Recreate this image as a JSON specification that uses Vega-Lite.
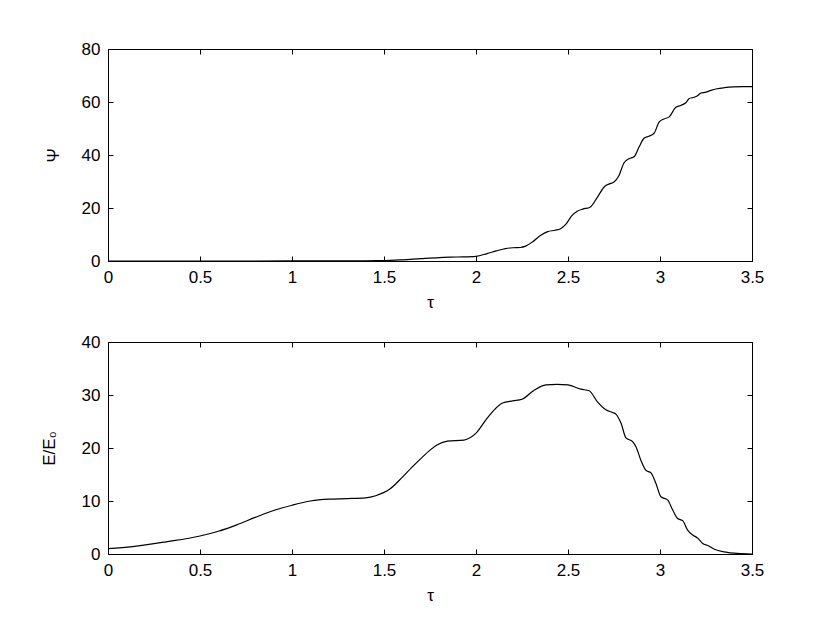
{
  "$schema": "https://vega.github.io/schema/vega-lite/v6.json",
  "padding": {"left": 39, "top": 39, "right": 5, "bottom": 5},
  "spacing": 21,
  "config": {
    "font": "Liberation Sans",
    "view": {"stroke": "black", "strokeWidth": 1},
    "axis": {
      "grid": false,
      "domain": false,
      "tickColor": "black",
      "tickWidth": 1,
      "tickSize": -5,
      "labelPadding": 13,
      "labelFontSize": 17,
      "titleFontSize": 17,
      "labelColor": "black",
      "titleColor": "black",
      "titleFontWeight": "normal",
      "labelFont": "Liberation Sans",
      "titleFont": "Liberation Sans",
      "labelFlush": false,
      "format": "~r"
    },
    "line": {"color": "black", "strokeWidth": 1.2}
  },
  "datasets": {
    "psi": [
      {"t": 0, "v": 0}, {"t": 0.5, "v": 0}, {"t": 1.0, "v": 0.02}, {"t": 1.2, "v": 0.05},
      {"t": 1.4, "v": 0.1}, {"t": 1.5, "v": 0.15}, {"t": 1.6, "v": 0.45}, {"t": 1.7, "v": 0.9},
      {"t": 1.8, "v": 1.3}, {"t": 1.9, "v": 1.5}, {"t": 2.0, "v": 1.75}, {"t": 2.06, "v": 2.8},
      {"t": 2.11, "v": 3.8}, {"t": 2.16, "v": 4.7}, {"t": 2.2, "v": 5.0}, {"t": 2.24, "v": 5.1},
      {"t": 2.27, "v": 5.6}, {"t": 2.31, "v": 7.4}, {"t": 2.35, "v": 9.6}, {"t": 2.39, "v": 11.1},
      {"t": 2.43, "v": 11.6}, {"t": 2.46, "v": 12.2}, {"t": 2.49, "v": 14}, {"t": 2.52, "v": 17},
      {"t": 2.55, "v": 18.8}, {"t": 2.58, "v": 19.6}, {"t": 2.62, "v": 20.3}, {"t": 2.66, "v": 24.1},
      {"t": 2.7, "v": 28.2}, {"t": 2.725, "v": 29.1}, {"t": 2.75, "v": 29.8}, {"t": 2.777, "v": 32.3},
      {"t": 2.804, "v": 37.0}, {"t": 2.832, "v": 38.6}, {"t": 2.859, "v": 39.3}, {"t": 2.886, "v": 43},
      {"t": 2.913, "v": 46.3}, {"t": 2.94, "v": 47.1}, {"t": 2.968, "v": 48.2}, {"t": 2.995, "v": 52.4},
      {"t": 3.022, "v": 53.6}, {"t": 3.05, "v": 54.4}, {"t": 3.086, "v": 58}, {"t": 3.113, "v": 58.7},
      {"t": 3.14, "v": 59.7}, {"t": 3.159, "v": 61.3}, {"t": 3.186, "v": 61.8}, {"t": 3.204, "v": 62.4},
      {"t": 3.222, "v": 63.4}, {"t": 3.25, "v": 63.7}, {"t": 3.277, "v": 64.4}, {"t": 3.31, "v": 65.0},
      {"t": 3.35, "v": 65.4}, {"t": 3.4, "v": 65.7}, {"t": 3.45, "v": 65.8}, {"t": 3.5, "v": 65.8}
    ],
    "energy": [
      {"t": 0, "v": 1.0}, {"t": 0.133, "v": 1.4}, {"t": 0.315, "v": 2.3}, {"t": 0.5, "v": 3.4},
      {"t": 0.6, "v": 4.3}, {"t": 0.7, "v": 5.5}, {"t": 0.8, "v": 6.9}, {"t": 0.9, "v": 8.2},
      {"t": 1.0, "v": 9.2}, {"t": 1.1, "v": 10.0}, {"t": 1.2, "v": 10.35}, {"t": 1.3, "v": 10.45},
      {"t": 1.4, "v": 10.6}, {"t": 1.455, "v": 11.0}, {"t": 1.53, "v": 12.2}, {"t": 1.6, "v": 14.5},
      {"t": 1.65, "v": 16.3}, {"t": 1.7, "v": 18.0}, {"t": 1.75, "v": 19.6}, {"t": 1.79, "v": 20.6},
      {"t": 1.844, "v": 21.3}, {"t": 1.935, "v": 21.5}, {"t": 2.0, "v": 22.8}, {"t": 2.06, "v": 25.6},
      {"t": 2.144, "v": 28.5}, {"t": 2.2, "v": 28.9}, {"t": 2.25, "v": 29.2}, {"t": 2.316, "v": 30.9},
      {"t": 2.38, "v": 31.9}, {"t": 2.44, "v": 32.0}, {"t": 2.5, "v": 31.9}, {"t": 2.57, "v": 31.1},
      {"t": 2.615, "v": 30.8}, {"t": 2.66, "v": 28.7}, {"t": 2.706, "v": 27.2}, {"t": 2.742, "v": 26.7},
      {"t": 2.76, "v": 26.4}, {"t": 2.788, "v": 24.7}, {"t": 2.815, "v": 21.9}, {"t": 2.851, "v": 21.2},
      {"t": 2.87, "v": 20.2}, {"t": 2.896, "v": 17.7}, {"t": 2.923, "v": 15.8}, {"t": 2.951, "v": 15.3},
      {"t": 2.978, "v": 13.3}, {"t": 3.005, "v": 10.8}, {"t": 3.041, "v": 10.2}, {"t": 3.069, "v": 8.3},
      {"t": 3.096, "v": 6.7}, {"t": 3.123, "v": 6.3}, {"t": 3.15, "v": 4.5}, {"t": 3.178, "v": 3.6},
      {"t": 3.205, "v": 3.0}, {"t": 3.232, "v": 2.0}, {"t": 3.26, "v": 1.6}, {"t": 3.296, "v": 0.9},
      {"t": 3.35, "v": 0.4}, {"t": 3.42, "v": 0.1}, {"t": 3.5, "v": 0.0}
    ]
  },
  "vconcat": [
    {
      "width": 644,
      "height": 212,
      "data": {"name": "psi"},
      "layer": [
        {
          "mark": {"type": "line", "interpolate": "monotone"},
          "encoding": {
            "x": {"field": "t", "type": "quantitative", "scale": {"domain": [0, 3.5], "nice": false, "zero": false},
                  "axis": {"orient": "bottom", "title": "τ", "values": [0, 0.5, 1, 1.5, 2, 2.5, 3, 3.5], "titlePadding": 9}},
            "y": {"field": "v", "type": "quantitative", "scale": {"domain": [0, 80], "nice": false},
                  "axis": {"orient": "left", "title": "Ψ", "values": [0, 20, 40, 60, 80], "titlePadding": 19}}
          }
        },
        {
          "mark": {"type": "line", "interpolate": "monotone", "strokeOpacity": 0},
          "encoding": {
            "x": {"field": "t", "type": "quantitative", "scale": {"domain": [0, 3.5], "nice": false, "zero": false},
                  "axis": {"orient": "top", "title": null, "labels": false, "values": [0, 0.5, 1, 1.5, 2, 2.5, 3, 3.5]}},
            "y": {"field": "v", "type": "quantitative", "scale": {"domain": [0, 80], "nice": false},
                  "axis": {"orient": "right", "title": null, "labels": false, "values": [0, 20, 40, 60, 80]}}
          }
        }
      ],
      "resolve": {"axis": {"x": "independent", "y": "independent"}}
    },
    {
      "width": 644,
      "height": 212,
      "data": {"name": "energy"},
      "layer": [
        {
          "mark": {"type": "line", "interpolate": "monotone"},
          "encoding": {
            "x": {"field": "t", "type": "quantitative", "scale": {"domain": [0, 3.5], "nice": false, "zero": false},
                  "axis": {"orient": "bottom", "title": "τ", "values": [0, 0.5, 1, 1.5, 2, 2.5, 3, 3.5], "titlePadding": 9}},
            "y": {"field": "v", "type": "quantitative", "scale": {"domain": [0, 40], "nice": false},
                  "axis": {"orient": "left", "title": "E/E₀", "values": [0, 10, 20, 30, 40], "titlePadding": 23}}
          }
        },
        {
          "mark": {"type": "line", "interpolate": "monotone", "strokeOpacity": 0},
          "encoding": {
            "x": {"field": "t", "type": "quantitative", "scale": {"domain": [0, 3.5], "nice": false, "zero": false},
                  "axis": {"orient": "top", "title": null, "labels": false, "values": [0, 0.5, 1, 1.5, 2, 2.5, 3, 3.5]}},
            "y": {"field": "v", "type": "quantitative", "scale": {"domain": [0, 40], "nice": false},
                  "axis": {"orient": "right", "title": null, "labels": false, "values": [0, 10, 20, 30, 40]}}
          }
        }
      ],
      "resolve": {"axis": {"x": "independent", "y": "independent"}}
    }
  ]
}
